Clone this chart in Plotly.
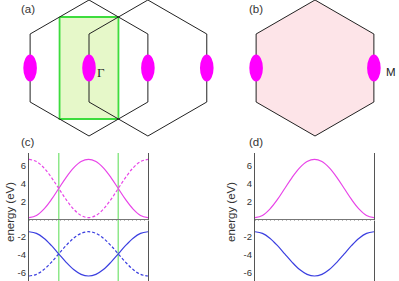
import plotly.graph_objects as go

# ---------------- data ----------------
# hexagonal Brillouin zone (circumradius 1), vertices
hex_kx = [0.0, 0.866, 0.866, 0.0, -0.866, -0.866, 0.0]
hex_ky = [1.0, 0.5, -0.5, -1.0, -0.5, 0.5, 1.0]
zone_centers_a = [0.0, 0.866]
zone_centers_b = [0.0]
valleys_a = [-0.866, 0.0, 0.866, 1.732]
valleys_b = [-0.866, 0.866]
rect_kx = [-0.433, 0.433]
rect_ky = [-0.75, 0.75]

# band structure along k (fraction of path)
k = [i / 16 for i in range(17)]
upper_solid = [0.15, 0.40, 1.11, 2.17, 3.43, 4.69, 5.75, 6.46, 6.71,
               6.46, 5.75, 4.69, 3.43, 2.17, 1.11, 0.40, 0.15]
upper_dash = [6.71, 6.46, 5.75, 4.69, 3.43, 2.17, 1.11, 0.40, 0.15,
              0.40, 1.11, 2.17, 3.43, 4.69, 5.75, 6.46, 6.71]
lower_solid = [-1.43, -1.62, -2.16, -2.97, -3.92, -4.87, -5.68, -6.22, -6.41,
               -6.22, -5.68, -4.87, -3.92, -2.97, -2.16, -1.62, -1.43]
lower_dash = [-6.41, -6.22, -5.68, -4.87, -3.92, -2.97, -2.16, -1.62, -1.43,
              -1.62, -2.16, -2.97, -3.92, -4.87, -5.68, -6.22, -6.41]
k_cross = [0.25, 0.75]
ytick_vals = [6, 4, 2, -2, -4, -6]
ytick_text = ["6", "4", "2", "-2", "-4", "-6"]
panel_labels = ["(a)", "(b)", "(c)", "(d)"]

# ---------------- layout helpers ----------------
W, H = 399, 281
def px(xp):
    return xp / W
def py(yp):
    return 1 - yp / H

S = 68.0  # px per unit in BZ panels
YMIN, YMAX = -6.97, 7.42

MAG = "#e844e8"
BLUE = "#3a3ee0"
HEX = "#222222"

fig = go.Figure()

# ---- panel (a) ----
fig.add_trace(go.Scatter(
    x=[rect_kx[0], rect_kx[1], rect_kx[1], rect_kx[0], rect_kx[0]],
    y=[rect_ky[1], rect_ky[1], rect_ky[0], rect_ky[0], rect_ky[1]],
    mode="lines", fill="toself", fillcolor="#e6f8c9",
    line=dict(color="#3ddc3d", width=1.8), xaxis="x", yaxis="y",
    hoverinfo="skip", cliponaxis=False))
for c in zone_centers_a:
    fig.add_trace(go.Scatter(
        x=[v + c for v in hex_kx], y=hex_ky, mode="lines",
        line=dict(color=HEX, width=1), xaxis="x", yaxis="y",
        hoverinfo="skip", cliponaxis=False))

# ---- panel (b) ----
for c in zone_centers_b:
    fig.add_trace(go.Scatter(
        x=[v + c for v in hex_kx], y=hex_ky, mode="lines",
        fill="toself", fillcolor="#fde4e8",
        line=dict(color=HEX, width=1), xaxis="x2", yaxis="y2",
        hoverinfo="skip", cliponaxis=False))

# valleys as ellipses
shapes = []
ax_e, ay_e = 0.10, 0.20
for v in valleys_a:
    shapes.append(dict(type="circle", xref="x", yref="y",
                       x0=v - ax_e, x1=v + ax_e, y0=-ay_e, y1=ay_e,
                       fillcolor="#ff00ff", line=dict(width=0), layer="above"))
for v in valleys_b:
    shapes.append(dict(type="circle", xref="x2", yref="y2",
                       x0=v - ax_e, x1=v + ax_e, y0=-ay_e, y1=ay_e,
                       fillcolor="#ff00ff", line=dict(width=0), layer="above"))

# ---- panel (c) ----
fig.add_trace(go.Scatter(
    x=[k_cross[0], k_cross[0], None, k_cross[1], k_cross[1]],
    y=[YMIN, YMAX, None, YMIN, YMAX], mode="lines",
    line=dict(color="#8ee88a", width=1.5), xaxis="x3", yaxis="y3",
    hoverinfo="skip"))
for ys, col, dash in [(upper_dash, MAG, "3px,2px"), (upper_solid, MAG, "solid"),
                      (lower_dash, BLUE, "3px,2px"), (lower_solid, BLUE, "solid")]:
    fig.add_trace(go.Scatter(x=k, y=ys, mode="lines",
                             line=dict(color=col, width=1.2, dash=dash, shape="spline"),
                             xaxis="x3", yaxis="y3", hoverinfo="skip"))

# ---- panel (d) ----
for ys, col in [(upper_solid, MAG), (lower_solid, BLUE)]:
    fig.add_trace(go.Scatter(x=k, y=ys, mode="lines",
                             line=dict(color=col, width=1.2, shape="spline"),
                             xaxis="x4", yaxis="y4", hoverinfo="skip"))

zero_pos = (0 - YMIN) / (YMAX - YMIN) * py(153)

def bz_x(dom0, dom1, center):
    return dict(domain=[px(dom0), px(dom1)],
                range=[(dom0 - center) / S, (dom1 - center) / S],
                visible=False, fixedrange=True)

ydom_top = [py(140), 1.0]
yr_top = [-(140 - 68) / S, 68 / S]

def band_x(d0, d1, yname):
    return dict(domain=[px(d0), px(d1)], range=[0, 1], anchor="free",
                position=zero_pos, showline=True, linecolor="#777",
                linewidth=1, ticks="outside", ticklen=1, tickcolor="#bbb",
                tickwidth=1, dtick=1 / 30, showticklabels=False,
                showgrid=False, zeroline=False)

def band_y(xname):
    return dict(domain=[0, py(153)], range=[YMIN, YMAX], anchor=xname,
                showline=True, linecolor="#555", linewidth=1.2, mirror=True,
                ticks="", tickvals=ytick_vals, ticktext=ytick_text,
                tickfont=dict(family="Liberation Sans", size=9.5, color="#333"),
                showgrid=False, zeroline=False)

annotations = []
for lbl, (xp, yp) in zip(panel_labels, [(28, 9), (256, 9), (28, 142), (256, 142)]):
    annotations.append(dict(text=lbl, x=px(xp), y=py(yp), xref="paper", yref="paper",
                            showarrow=False, xanchor="center", yanchor="middle",
                            font=dict(family="Liberation Sans", size=11.5, color="#333")))
for xp in [10, 231]:
    annotations.append(dict(text="energy (eV)", x=px(xp), y=py(212), xref="paper",
                            yref="paper", showarrow=False, textangle=-90,
                            xanchor="center", yanchor="middle",
                            font=dict(family="Liberation Sans", size=11.5, color="#333")))
annotations.append(dict(text="Γ", x=0.17, y=-0.07, xref="x", yref="y", showarrow=False,
                        xanchor="center", yanchor="middle",
                        font=dict(family="Liberation Serif", size=13, color="#222")))
annotations.append(dict(text="M", x=(391 - 315) / S, y=-0.06, xref="x2", yref="y2",
                        showarrow=False, xanchor="center", yanchor="middle",
                        font=dict(family="Liberation Sans", size=11.5, color="#222")))

fig.update_layout(
    width=W, height=H, margin=dict(l=0, r=0, t=0, b=0),
    paper_bgcolor="white", plot_bgcolor="rgba(0,0,0,0)", showlegend=False,
    hovermode=False,
    xaxis=bz_x(0, 215, 89), yaxis=dict(domain=ydom_top, range=yr_top, visible=False, anchor="x"),
    xaxis2=bz_x(215, 399, 315), yaxis2=dict(domain=ydom_top, range=yr_top, visible=False, anchor="x2"),
    xaxis3=band_x(29, 148, "y3"), yaxis3=band_y("x3"),
    xaxis4=band_x(255, 374, "y4"), yaxis4=band_y("x4"),
    shapes=shapes, annotations=annotations,
)

fig.write_html("out.html", config={"displayModeBar": False},
               post_script="document.body.style.margin='0';document.body.style.overflow='hidden';")
